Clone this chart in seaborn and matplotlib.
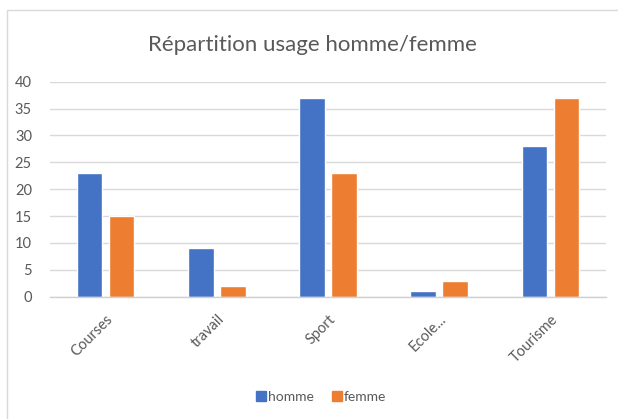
import pandas as pd
import matplotlib
matplotlib.use('Agg')
import matplotlib.pyplot as plt
import matplotlib.patches as mpatches
import seaborn as sns

categories = ['Courses', 'travail', 'Sport', 'Ecole...', 'Tourisme']
homme = [23, 9, 37, 1, 28]
femme = [15, 2, 23, 3, 37]
series = ['homme', 'femme']
colors = ['#4472C4', '#ED7D31']
yticks = [0, 5, 10, 15, 20, 25, 30, 35, 40]

df = pd.DataFrame({
    'categorie': categories * 2,
    'valeur': homme + femme,
    'serie': ['homme'] * len(categories) + ['femme'] * len(categories),
})

sns.set_style('white')
plt.rcParams['font.family'] = ['Lato', 'DejaVu Sans']
text_color = '#595959'

fig = plt.figure(figsize=(6.18, 4.19), dpi=100)
ax = fig.add_axes([0.0809, 0.2919, 0.8997, 0.5131])

sns.barplot(data=df, x='categorie', y='valeur', hue='serie',
            hue_order=series, palette=colors, width=0.576, gap=0.2,
            saturation=1, ax=ax, legend=False)

ax.set_ylim(0, 40)
ax.set_yticks(yticks)
ax.yaxis.grid(True, color='#D9D9D9', linewidth=1)
ax.set_axisbelow(True)
for s in ['top', 'right', 'left']:
    ax.spines[s].set_visible(False)
ax.spines['bottom'].set_color('#D0D0D0')
ax.spines['bottom'].set_linewidth(1)
ax.set_xlabel('')
ax.set_ylabel('')
ax.tick_params(axis='both', length=0, colors=text_color, labelsize=10.5)
ax.tick_params(axis='y', pad=13)
ax.tick_params(axis='x', pad=11)
plt.setp(ax.get_xticklabels(), rotation=45, ha='right', rotation_mode='anchor')

fig.text(0.505, 0.893, 'Répartition usage homme/femme', ha='center', va='center',
         fontsize=16, color=text_color)

handles = [mpatches.Patch(color=c, label=s) for c, s in zip(colors, series)]
fig.legend(handles=handles, loc='center', bbox_to_anchor=(0.52, 0.052), ncol=2,
           frameon=False, handlelength=0.7, handleheight=0.7, handletextpad=0.15,
           columnspacing=1.3, fontsize=10, labelcolor=text_color)

frame = mpatches.Rectangle((7 / 618, -0.1), 1.2, 1 - 10 / 419 + 0.1,
                           transform=fig.transFigure, fill=False,
                           edgecolor='#D9D9D9', linewidth=1)
fig.patches.append(frame)

fig.savefig('out.png', dpi=100)
